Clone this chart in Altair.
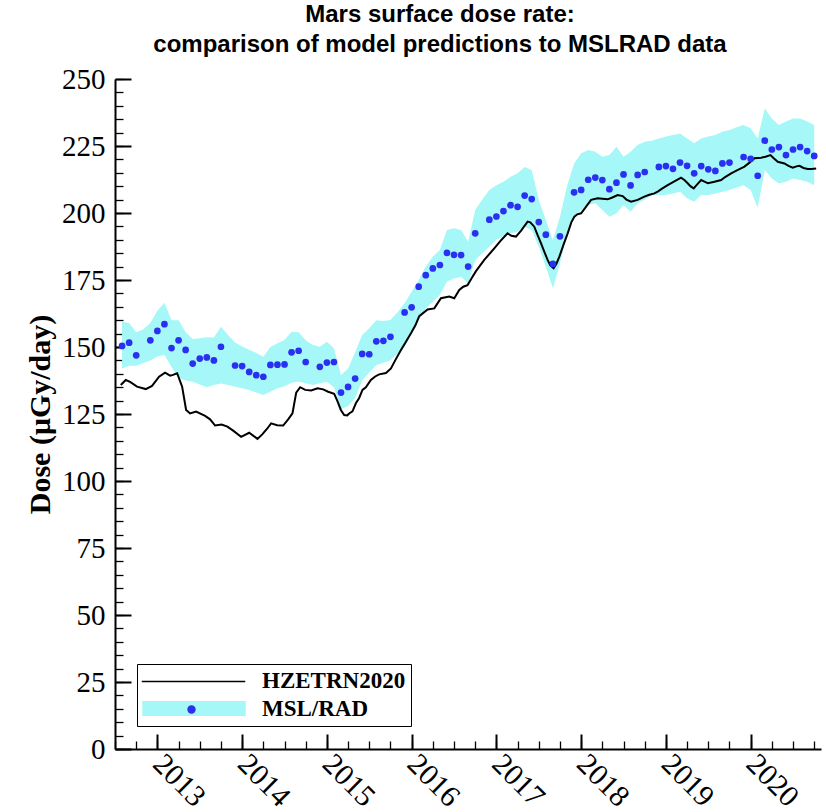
import altair as alt
import numpy as np
import pandas as pd

# ---------------- data ----------------
# MSL/RAD monthly means (first of each month, Aug 2012 .. Oct 2020); None = no point
msl_first_month = "2012-08"
msl_last_month = "2020-10"
msl_dose = [
    150.4, 151.6, 146.9, None, 152.5, 156.0, 158.5, 149.6, 152.5, 148.9,
    143.8, 145.7, 146.1, 145.0, 150.1, None, 143.1, 142.9, 140.7, 139.5,
    138.9, 143.3, 143.4, 143.5, 148.0, 148.6, 144.4, None, 142.6, 144.2,
    144.4, 133.0, 135.1, 138.2, 147.4, 147.3, 152.1, 152.3, 153.8, None,
    162.9, 164.8, 172.5, 176.8, 179.3, 180.6, 185.1, 184.4, 184.3, 180.0,
    192.4, None, 197.5, 198.7, 200.7, 202.9, 202.3, 206.5, 205.2, 196.6,
    191.9, 181.0, 191.3, None, 207.7, 208.6, 212.4, 213.2, 212.3, 208.9,
    211.3, 214.4, 210.3, 214.2, 215.3, None, 217.2, 217.5, 216.5, 218.8,
    217.6, 214.8, 217.5, 216.3, 215.7, 218.5, 218.8, None, 220.9, 220.2,
    213.9, 227.0, 223.7, 224.6, 221.6, 223.7, 224.6, 223.1, 221.3,
]
band_upper = [
    159.4, 159.0, 155.5, 156.5, 159.0, 163.5, 166.5, 160.0, 160.0, 155.5,
    153.0, 153.3, 153.6, 153.5, 157.6, 154.5, 151.7, 150.2, 149.0, 147.8,
    146.4, 150.0, 151.4, 152.6, 155.7, 155.5, 152.5, 150.7, 150.1, 152.0,
    149.5, 139.5, 142.0, 148.0, 154.5, 157.0, 160.0, 159.7, 160.1, 163.0,
    166.3, 170.6, 175.0, 180.0, 183.7, 186.2, 193.7, 194.3, 193.7, 189.3,
    201.1, 205.0, 208.6, 210.4, 211.7, 213.5, 214.8, 217.2, 216.0, 204.9,
    197.4, 189.9, 198.6, 210.0, 218.5, 222.3, 223.5, 222.9, 221.0, 221.6,
    224.7, 221.0, 222.9, 225.4, 226.6, 227.0, 227.8, 228.5, 229.1, 229.7,
    227.8, 226.0, 227.8, 228.5, 229.1, 230.3, 231.0, 232.0, 232.8, 231.6,
    227.8, 239.0, 235.3, 232.8, 234.1, 235.3, 235.3, 234.1, 232.8,
]
band_lower = [
    142.0, 143.0, 143.0, 144.0, 145.0, 146.5, 147.0, 142.5, 138.5, 137.5,
    137.0, 136.0, 135.0, 135.8, 136.4, 135.8, 135.2, 134.6, 134.0, 133.0,
    132.1, 133.3, 134.6, 135.4, 136.7, 137.1, 136.5, 135.8, 136.5, 137.0,
    135.0, 126.8, 128.0, 131.0, 137.5, 140.5, 143.3, 144.1, 145.1, 147.5,
    150.1, 155.1, 160.1, 164.4, 166.9, 169.4, 174.4, 175.6, 176.2, 173.8,
    182.5, 185.0, 187.4, 190.0, 191.2, 192.4, 193.0, 194.9, 193.7, 187.4,
    180.0, 171.9, 181.2, 192.0, 198.6, 201.1, 203.0, 203.6, 201.1, 198.6,
    199.9, 203.0, 200.5, 203.6, 204.9, 206.7, 206.7, 206.7, 207.3, 207.9,
    205.5, 204.2, 206.7, 206.7, 207.3, 207.9, 208.6, 209.5, 210.4, 208.6,
    202.0, 216.0, 212.9, 211.0, 211.7, 212.9, 212.3, 211.7, 210.4,
]

# HZETRN2020 model curve (decimal year, dose)
hz_year = [
    2012.568, 2012.627, 2012.678, 2012.760, 2012.863, 2012.937, 2013.020, 2013.091,
    2013.150, 2013.185, 2013.233, 2013.292, 2013.339, 2013.386, 2013.457, 2013.563,
    2013.622, 2013.681, 2013.758, 2013.826, 2013.894, 2013.988, 2014.083, 2014.181,
    2014.240, 2014.295, 2014.342, 2014.413, 2014.484, 2014.543, 2014.594, 2014.638,
    2014.685, 2014.744, 2014.815, 2014.889, 2014.956, 2015.015, 2015.086, 2015.122,
    2015.165, 2015.204, 2015.240, 2015.263, 2015.302, 2015.342, 2015.381, 2015.420,
    2015.460, 2015.519, 2015.570, 2015.617, 2015.697, 2015.756, 2015.806, 2015.874,
    2015.924, 2015.992, 2016.043, 2016.090, 2016.188, 2016.267, 2016.346, 2016.444,
    2016.503, 2016.562, 2016.609, 2016.660, 2016.704, 2016.759, 2016.857, 2016.975,
    2017.046, 2017.132, 2017.176, 2017.231, 2017.294, 2017.368, 2017.400, 2017.447,
    2017.483, 2017.527, 2017.566, 2017.604, 2017.636, 2017.675, 2017.707, 2017.743,
    2017.790, 2017.841, 2017.884, 2017.920, 2017.955, 2017.999, 2018.050, 2018.117,
    2018.195, 2018.250, 2018.313, 2018.368, 2018.431, 2018.490, 2018.534, 2018.589,
    2018.667, 2018.746, 2018.805, 2018.864, 2018.903, 2018.959, 2019.021, 2019.100,
    2019.179, 2019.218, 2019.257, 2019.289, 2019.328, 2019.372, 2019.416, 2019.455,
    2019.494, 2019.561, 2019.652, 2019.703, 2019.770, 2019.844, 2019.927, 2019.986,
    2020.045, 2020.124, 2020.175, 2020.234, 2020.269, 2020.320, 2020.399, 2020.446,
    2020.497, 2020.541, 2020.576, 2020.624, 2020.674, 2020.718, 2020.773,
]
hz_dose = [
    135.8, 137.7, 137.0, 135.2, 134.3, 135.5, 138.9, 140.4,
    139.3, 139.6, 140.2, 135.2, 126.5, 125.2, 125.9, 124.3,
    123.0, 120.7, 121.1, 120.3, 118.8, 116.5, 118.0, 115.7,
    117.5, 119.5, 121.5, 120.8, 120.7, 123.0, 125.2, 133.0,
    135.0, 134.0, 133.8, 134.6, 134.2, 133.3, 132.5, 130.0,
    126.5, 124.6, 124.5, 125.2, 126.0, 129.0, 131.0, 134.0,
    135.0, 137.7, 139.0, 139.8, 140.3, 142.0, 145.0, 148.9,
    151.5, 155.1, 158.0, 161.5, 164.0, 164.4, 168.2, 168.8,
    168.2, 171.3, 172.5, 173.1, 175.5, 178.3, 182.5, 186.8,
    189.5, 192.4, 191.5, 191.2, 193.5, 196.8, 196.5, 194.9,
    192.0, 188.7, 185.5, 182.5, 180.5, 179.4, 181.0, 183.7,
    188.0, 192.4, 196.5, 198.6, 199.5, 199.9, 202.0, 204.9,
    205.5, 205.3, 205.1, 205.8, 206.7, 206.3, 205.0, 204.2,
    204.9, 206.1, 206.8, 207.3, 208.0, 209.2, 210.4, 211.8,
    213.2, 212.3, 211.1, 210.0, 209.2, 210.8, 212.3, 211.7,
    211.1, 211.6, 212.3, 213.5, 214.8, 216.0, 217.3, 218.8,
    220.4, 220.6, 221.0, 221.6, 220.5, 219.1, 218.5, 217.6,
    216.9, 217.4, 217.6, 216.8, 216.4, 216.4, 216.6,
]

series_names = ["HZETRN2020", "MSL/RAD"]
year_ticks = [2013, 2014, 2015, 2016, 2017, 2018, 2019, 2020]
dose_ticks = [0, 25, 50, 75, 100, 125, 150, 175, 200, 225, 250]

# ---------------- tables ----------------
months = pd.period_range(msl_first_month, msl_last_month, freq="M")
month_year = [p.year + (p.month - 1) / 12 for p in months]

msl_df = pd.DataFrame({
    "year": month_year,
    "dose": msl_dose,
    "upper": band_upper,
    "lower": band_lower,
    "series": series_names[1],
})
hz_df = pd.DataFrame({"year": hz_year, "dose": hz_dose, "series": series_names[0]})
legend_df = pd.DataFrame({"series": series_names, "year": [None, None], "dose": [None, None]})

# ---------------- styling ----------------
CYAN = "#a6f7f7"
BLUE = "#2a30f0"
SERIF = "Liberation Serif"
SANS = "Liberation Sans"

xs = alt.Scale(domain=[2012.5, 2020.83], nice=False, zero=False)
ys = alt.Scale(domain=[0, 250], nice=False, zero=True)

minor_x_vals = [float(v) for v in np.arange(2012.5, 2020.8, 0.25)]
minor_y_vals = [float(v) for v in np.arange(0, 251, 5)]

major_x_axis = alt.Axis(
    orient="bottom", values=year_ticks, format="d", offset=-15, tickSize=15,
    tickWidth=2, tickColor="black", domain=False, grid=False, labelAngle=45,
    labelAlign="left", labelBaseline="middle", labelPadding=10, labelFont=SERIF,
    labelFontSize=30, labelColor="black", labelOverlap=False, labelBound=False,
    labelFlush=False, title=None,
)
major_y_axis = alt.Axis(
    orient="left", values=dose_ticks, offset=-16, tickSize=16, tickWidth=2,
    tickColor="black", domain=False, grid=False, labelPadding=10, labelFont=SERIF,
    labelFontSize=29, labelColor="black", labelOverlap=False, labelFlush=False,
    labelBound=False, title="Dose (μGy/day)", titleFont=SERIF, titleFontSize=30,
    titleFontWeight="bold", titleColor="black", titlePadding=6,
)
minor_x_axis = alt.Axis(
    orient="bottom", values=minor_x_vals, offset=-8, tickSize=8, tickWidth=1.3,
    tickColor="black", domain=False, grid=False, labels=False, title=None,
)
minor_y_axis = alt.Axis(
    orient="left", values=minor_y_vals, offset=-8, tickSize=8, tickWidth=1.3,
    tickColor="black", domain=False, grid=False, labels=False, title=None,
)
domain_x_axis = alt.Axis(
    orient="bottom", ticks=False, labels=False, grid=False, domain=True,
    domainWidth=2, domainColor="black", title=None,
)
domain_y_axis = alt.Axis(
    orient="left", ticks=False, labels=False, grid=False, domain=True,
    domainWidth=2, domainColor="black", title=None,
)

LINE_PATH = "M-6.9,0L6.9,0"
RECT_PATH = "M-6.9,-1L6.9,-1L6.9,1L-6.9,1Z"

band = alt.Chart(msl_df).mark_area(color=CYAN, opacity=1).encode(
    x=alt.X("year:Q", scale=xs, axis=major_x_axis),
    y=alt.Y("upper:Q", scale=ys, axis=major_y_axis),
    y2="lower:Q",
)

# legend overlay: black line symbol on the first legend row
line_legend = alt.Legend(
    orient="none", legendX=70, legendY=594, title=None, symbolType=LINE_PATH,
    symbolSize=225, symbolStrokeWidth=1.6, symbolStrokeColor="black",
    labelOpacity=0, labelFontSize=8, padding=0, zindex=3,
)
line = alt.Chart(hz_df).mark_line(strokeWidth=2).encode(
    x=alt.X("year:Q", scale=xs, axis=minor_x_axis),
    y=alt.Y("dose:Q", scale=ys, axis=minor_y_axis),
    stroke=alt.Stroke("series:N", scale=alt.Scale(domain=[series_names[0]], range=["black"]),
                      legend=line_legend),
)

# legend overlay: blue dot on the second legend row
dot_legend = alt.Legend(
    orient="none", legendX=72, legendY=626, title=None, symbolType="circle",
    symbolSize=70, symbolStrokeWidth=0, labelOpacity=0, labelFontSize=8,
    padding=0, zindex=3,
)
dots = alt.Chart(msl_df).mark_circle(size=45, opacity=1).encode(
    x=alt.X("year:Q", scale=xs, axis=domain_x_axis),
    y=alt.Y("dose:Q", scale=ys, axis=domain_y_axis),
    fill=alt.Fill("series:N", scale=alt.Scale(domain=[series_names[1]], range=[BLUE]),
                  legend=dot_legend),
)

# boxed legend with labels and the cyan band swatch
main_legend = alt.Legend(
    orient="none", legendX=22, legendY=585, title=None, symbolSize=225,
    symbolType=RECT_PATH, symbolStrokeWidth=0, symbolOffset=40.5, labelOffset=56.5,
    labelFont=SERIF, labelFontSize=23, labelFontWeight="bold", labelColor="black",
    padding=5, rowPadding=4, strokeColor="black", fillColor="white",
    symbolOpacity=1, labelLimit=300, zindex=1,
)
legend_layer = alt.Chart(legend_df).mark_point(filled=True).encode(
    x=alt.X("year:Q", scale=xs, axis=None),
    y=alt.Y("dose:Q", scale=ys, axis=None),
    color=alt.Color("series:N", scale=alt.Scale(domain=series_names, range=["white", CYAN]),
                    legend=main_legend),
)

chart = alt.layer(band, line, dots, legend_layer).resolve_axis(
    x="independent", y="independent"
).resolve_legend(color="independent", fill="independent", stroke="independent").properties(
    width=706,
    height=670,
    autosize=alt.AutoSizeParams(type="none"),
    padding={"left": 115, "top": 79, "right": 5, "bottom": 63},
    background="white",
    title=alt.TitleParams(
        text=["Mars surface dose rate:", "comparison of model predictions to MSLRAD data"],
        font=SANS, fontSize=24, fontWeight="bold", color="black",
        anchor="middle", dx=-28, lineHeight=30, offset=8,
    ),
).configure_view(stroke=None)

chart.save("out.html", embed_options={"renderer": "svg", "actions": False})
